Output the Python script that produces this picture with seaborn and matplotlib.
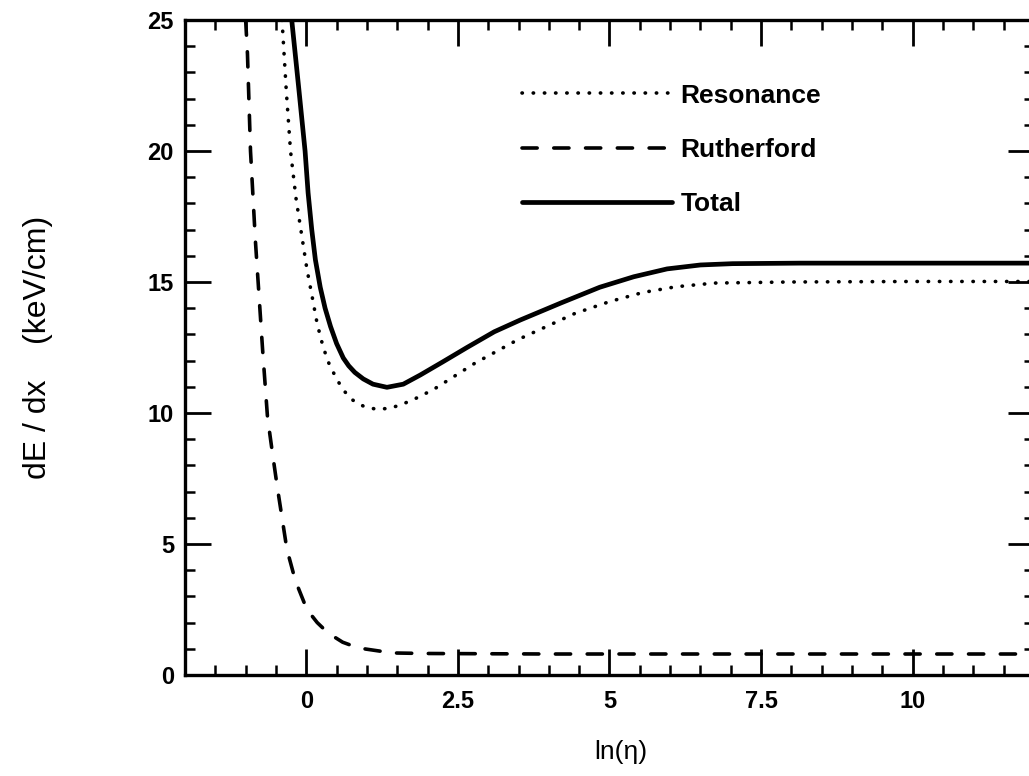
import numpy as np
import pandas as pd
import seaborn as sns
import matplotlib.pyplot as plt
from matplotlib.ticker import MultipleLocator, FixedLocator

# values
total_x = [-0.24, -0.12, -0.02, 0.03, 0.09, 0.15, 0.23, 0.31, 0.40, 0.50, 0.61, 0.70, 0.80,
           0.94, 1.10, 1.33, 1.60, 1.88, 2.25, 2.65, 3.10, 3.53, 4.20, 4.84, 5.40, 5.95,
           6.50, 7.03, 8.14, 10.0, 12.0]
total_y = [25.0, 22.3, 20.0, 18.4, 17.0, 15.85, 14.8, 14.0, 13.3, 12.65, 12.1, 11.8, 11.55,
           11.3, 11.1, 10.98, 11.1, 11.45, 11.95, 12.5, 13.1, 13.55, 14.2, 14.8, 15.2, 15.5,
           15.65, 15.7, 15.72, 15.72, 15.72]

reso_x = [-0.40, -0.33, -0.26, -0.17, -0.07, 0.01, 0.10, 0.18, 0.28, 0.38, 0.51, 0.62, 0.76,
          0.95, 1.14, 1.35, 1.55, 1.80, 2.10, 2.78, 3.49, 4.43, 5.00, 5.55, 6.10, 6.74,
          7.97, 10.0, 12.0]
reso_y = [25.0, 22.3, 20.0, 18.2, 16.7, 15.5, 14.4, 13.4, 12.5, 11.85, 11.26, 10.85, 10.5,
          10.25, 10.15, 10.17, 10.3, 10.55, 10.9, 11.9, 12.8, 13.8, 14.25, 14.6, 14.82, 14.96,
          15.0, 15.02, 15.02]

ruth_x = [-1.00, -0.97, -0.92, -0.84, -0.72, -0.64, -0.56, -0.48, -0.40, -0.32, -0.18, 0.01,
          0.18, 0.36, 0.60, 0.86, 1.42, 1.96, 4.0, 8.0, 12.0]
ruth_y = [25.0, 23.7, 20.0, 16.6, 12.4, 9.85, 8.5, 7.2, 6.0, 4.8, 3.6, 2.5,
          2.0, 1.6, 1.25, 1.03, 0.84, 0.82, 0.8, 0.8, 0.8]

xticks = [0, 2.5, 5, 7.5, 10]
xtick_labels = ['0', '2.5', '5', '7.5', '10']
yticks = [0, 5, 10, 15, 20, 25]

sns.set_style('ticks')
plt.rcParams['font.family'] = ['Liberation Sans', 'DejaVu Sans']
plt.rcParams['text.color'] = 'black'
plt.rcParams['axes.labelcolor'] = 'black'
plt.rcParams['xtick.color'] = 'black'
plt.rcParams['ytick.color'] = 'black'

fig = plt.figure(figsize=(10.29, 7.76), dpi=100)
ax = fig.add_axes([0.1798, 0.1302, 0.825, 0.844])

sns.lineplot(x=reso_x, y=reso_y, ax=ax, color='black', linewidth=2.6,
             linestyle=(0, (0.1, 3.0)), dash_capstyle='round', label='Resonance', sort=False)
sns.lineplot(x=ruth_x, y=ruth_y, ax=ax, color='black', linewidth=2.6,
             linestyle=(0, (4.2, 4.6)), dash_capstyle='round', label='Rutherford', sort=False)
sns.lineplot(x=total_x, y=total_y, ax=ax, color='black', linewidth=3.4,
             label='Total', sort=False)

ax.set_xlim(-2, 12)
ax.set_ylim(0, 25)
ax.xaxis.set_major_locator(FixedLocator(xticks))
ax.set_xticklabels(xtick_labels)
ax.xaxis.set_minor_locator(MultipleLocator(0.5))
ax.set_yticks(yticks)
ax.yaxis.set_minor_locator(MultipleLocator(1))

ax.tick_params(which='both', direction='in', top=True, right=True, color='black')
ax.tick_params(which='major', length=19, width=2.0, labelsize=17, labelcolor='black')
ax.tick_params(which='minor', length=7, width=1.8)
ax.tick_params(axis='x', which='major', pad=11)
ax.tick_params(axis='y', which='major', pad=8)
for lab in ax.get_xticklabels() + ax.get_yticklabels():
    lab.set_fontweight('bold')

for sp in ax.spines.values():
    sp.set_linewidth(2.4)
    sp.set_color('black')

ax.set_xlabel('ln(η)', fontsize=19)
ax.xaxis.set_label_coords(0.513, -0.10)
ax.set_ylabel('dE / dx    (keV/cm)', fontsize=23)
ax.yaxis.set_label_coords(-0.155, 0.5)

ax.legend(loc='upper left', bbox_to_anchor=(0.397, 0.903), frameon=False,
          borderpad=0, borderaxespad=0, handlelength=5.7, handletextpad=0.3,
          labelspacing=1.15, prop={'size': 19, 'weight': 'bold'})

fig.savefig('out.png', dpi=100)
